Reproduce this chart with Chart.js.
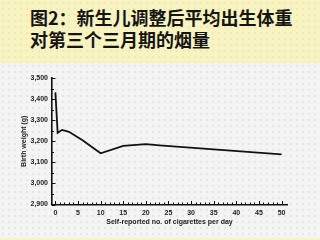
<!DOCTYPE html>
<html>
<head>
<meta charset="utf-8">
<script src="https://cdn.jsdelivr.net/npm/chart.js@4/dist/chart.umd.min.js"></script>
<style>
    html, body { margin: 0; padding: 0; width: 320px; height: 240px; overflow: hidden; }
    body { background: #f8f4c2; position: relative; }
    .title-band {
        position: absolute; left: 0; top: 0; width: 320px; height: 63px;
        background-color: #f8f4c2;
        background-image: radial-gradient(#e9e4ac 0.6px, transparent 0.9px);
        background-size: 6px 6px;
    }
    .title-band h1 {
        margin: 0; position: absolute; left: 30px; top: 6px;
        font-family: "Noto Sans CJK SC", sans-serif; font-weight: 700;
        font-size: 18px; line-height: 22px; color: #151515;
    }
    .chart-band {
        position: absolute; left: 0; top: 63px; width: 320px; height: 175px;
        background-color: #f4f4f4;
        background-image: radial-gradient(#dedede 0.6px, transparent 0.9px);
        background-size: 6px 6px;
    }
</style>
</head>
<body>
<div class="title-band">
    <h1>图2：新生儿调整后平均出生体重<br>对第三个三月期的烟量</h1>
</div>
<div class="chart-band">
    <canvas id="chart-peso" width="320" height="175"></canvas>
</div>
<script>
// dados
const cigarros = [0, 0.5, 1.5, 3, 6, 10, 15, 20, 23, 50];
const pesoNascer = [3432, 3240, 3254, 3245, 3205, 3143, 3178, 3186, 3180, 3138];
const xTicks = [0, 5, 10, 15, 20, 25, 30, 35, 40, 45, 50];
const yTicks = [2900, 3000, 3100, 3200, 3300, 3400, 3500];
const xMinor = Array.from({ length: 51 }, (_, i) => i);
const yMinor = [2950, 3050, 3150, 3250, 3350, 3450];

const fonteEixo = { family: 'Liberation Sans', size: 7, weight: 'bold' };

// marcas pequenas para dentro, como no original
const marcasPlugin = {
    id: 'marcas',
    afterDraw(chart) {
        const { ctx, scales: { x, y } } = chart;
        ctx.save();
        ctx.strokeStyle = '#111';
        ctx.lineWidth = 1;
        ctx.beginPath();
        xMinor.forEach(v => {
            const px = Math.round(x.getPixelForValue(v)) + 0.5;
            const len = v % 5 === 0 ? 3.5 : 2;
            ctx.moveTo(px, y.bottom);
            ctx.lineTo(px, y.bottom - len);
        });
        yTicks.forEach(v => {
            const py = Math.round(y.getPixelForValue(v)) + 0.5;
            ctx.moveTo(x.left, py);
            ctx.lineTo(x.left + 3.5, py);
        });
        yMinor.forEach(v => {
            const py = Math.round(y.getPixelForValue(v)) + 0.5;
            ctx.moveTo(x.left, py);
            ctx.lineTo(x.left + 2, py);
        });
        ctx.stroke();
        ctx.restore();
    }
};

new Chart(document.getElementById('chart-peso'), {
    type: 'line',
    data: {
        datasets: [{
            data: cigarros.map((c, i) => ({ x: c, y: pesoNascer[i] })),
            borderColor: '#111',
            borderWidth: 1.8,
            pointRadius: 0,
            tension: 0,
            fill: false
        }]
    },
    options: {
        responsive: false,
        animation: false,
        events: [],
        layout: { padding: { top: 15, right: 33, left: 0, bottom: 0 } },
        plugins: { legend: { display: false }, tooltip: { enabled: false } },
        scales: {
            x: {
                type: 'linear',
                min: -0.75,
                max: 51.2,
                afterBuildTicks: (s) => { s.ticks = xTicks.map(v => ({ value: v })); },
                afterFit: (s) => { s.height = 33.5; },
                grid: { display: false, drawTicks: false },
                border: { display: true, color: '#111', width: 1.6 },
                ticks: { font: fonteEixo, color: '#222', padding: 4, maxRotation: 0 },
                title: {
                    display: true,
                    text: 'Self-reported no. of cigarettes per day',
                    font: fonteEixo, color: '#222',
                    padding: { top: 0, bottom: 12 }
                }
            },
            y: {
                min: 2900,
                max: 3500,
                afterBuildTicks: (s) => { s.ticks = yTicks.map(v => ({ value: v })); },
                afterFit: (s) => { s.width = 52; },
                grid: { display: false, drawTicks: false },
                border: { display: true, color: '#111', width: 1.6 },
                ticks: {
                    font: fonteEixo, color: '#222', padding: 4,
                    callback: (v) => v.toLocaleString('en-US')
                },
                title: {
                    display: true,
                    text: 'Birth weight (g)',
                    font: fonteEixo, color: '#222',
                    padding: { top: 20, bottom: 0 }
                }
            }
        }
    },
    plugins: [marcasPlugin]
});
</script>
</body>
</html>
